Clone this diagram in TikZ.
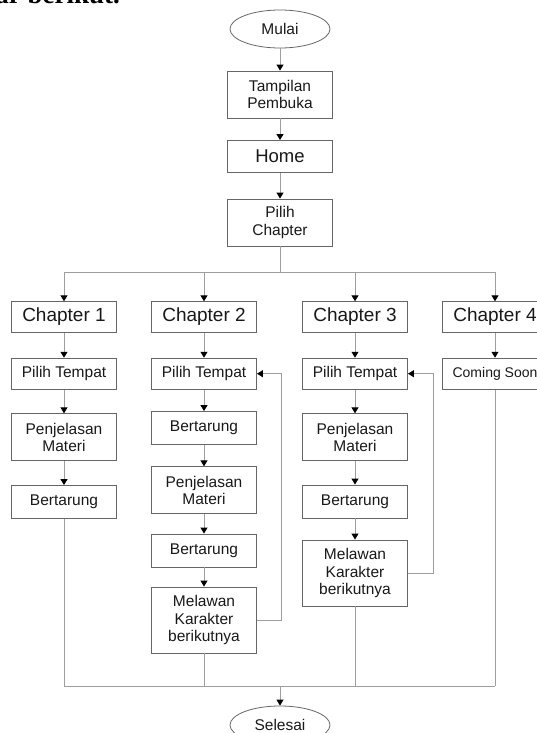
\documentclass[tikz,border=0pt]{standalone}
\usepackage{fontspec}
\setmainfont{Liberation Sans}
\newfontfamily\capserif{Liberation Serif}
\usetikzlibrary{shapes.geometric,arrows.meta}
\begin{document}
\begin{tikzpicture}[x=1pt,y=-1pt,
  box/.style={draw=black!60, line width=0.9pt, fill=white, minimum width=105pt,
    inner sep=0pt, align=center, text=black!90, font=\fontsize{15.5}{17.5}\selectfont},
  term/.style={ellipse, draw=black!60, line width=0.8pt, minimum width=100pt,
    minimum height=38pt, inner sep=0pt, text=black!90, font=\fontsize{15.5}{17.5}\selectfont},
  bsmall/.style={box, minimum height=33pt},
  btwo/.style={box, minimum height=47pt},
  bthree/.style={box, minimum height=66pt},
  chap/.style={box, minimum height=30.5pt, font=\fontsize{19}{21}\selectfont},
  conn/.style={draw=black!38, line width=1pt},
  arr/.style={conn, -{Triangle[length=6pt,width=7pt,color=black,fill=black]}}
]
\useasboundingbox (0,0) rectangle (537,733);

% clipped caption line of the page above the chart
\node[anchor=base east, inner sep=0pt, text=black,
  font=\capserif\bfseries\fontsize{27}{30}\selectfont] (cap) at (120,4) {gambar berikut.};

% main column
\node[term] (mulai) at (280,29) {Mulai};
\node[btwo] (tamp) at (280,94.5) {Tampilan\\Pembuka};
\node[box, minimum height=32pt, font=\fontsize{18.5}{20}\selectfont] (home) at (280,156.5) {Home};
\node[btwo] (pc) at (280,222.5) {Pilih\\Chapter};

% chapters
\node[chap] (ch1) at (64,317) {Chapter 1};
\node[chap] (ch2) at (204,317) {Chapter 2};
\node[chap] (ch3) at (355,317) {Chapter 3};
\node[chap] (ch4) at (495,317) {Chapter 4};

% column 1
\node[box, minimum height=31pt] (pt1) at (64,373.7) {Pilih Tempat};
\node[btwo] (pen1) at (64,437.3) {Penjelasan\\Materi};
\node[bsmall] (ber1) at (64,502) {Bertarung};

% column 2
\node[box, minimum height=31pt] (pt2) at (204,373.7) {Pilih Tempat};
\node[bsmall] (ber2a) at (204,428) {Bertarung};
\node[btwo] (pen2) at (204,490.3) {Penjelasan\\Materi};
\node[bsmall] (ber2b) at (204,550.5) {Bertarung};
\node[bthree] (mel2) at (204,620) {Melawan\\Karakter\\berikutnya};

% column 3
\node[box, minimum height=31pt] (pt3) at (355,373.7) {Pilih Tempat};
\node[btwo] (pen3) at (355,437.3) {Penjelasan\\Materi};
\node[bsmall] (ber3) at (355,501.5) {Bertarung};
\node[bthree] (mel3) at (355,573) {Melawan\\Karakter\\berikutnya};

% column 4
\node[box, minimum height=31pt, font=\fontsize{14}{16}\selectfont] (cs) at (495,373.7) {Coming Soon};

% end
\node[term] (sel) at (280,725) {Selesai};

% coordinates
\coordinate (split) at (280,272);
\coordinate (join) at (280,686);

% main arrows
\draw[arr] (mulai) -- (tamp);
\draw[arr] (tamp) -- (home);
\draw[arr] (home) -- (pc);
\draw[conn] (pc) -- (split);
\draw[conn] (ch1.north |- split) -- (ch4.north |- split);
\draw[arr] (ch1.north |- split) -- (ch1);
\draw[arr] (ch2.north |- split) -- (ch2);
\draw[arr] (ch3.north |- split) -- (ch3);
\draw[arr] (ch4.north |- split) -- (ch4);

% column arrows
\draw[arr] (ch1) -- (pt1);
\draw[arr] (pt1) -- (pen1);
\draw[arr] (pen1) -- (ber1);

\draw[arr] (ch2) -- (pt2);
\draw[arr] (pt2) -- (ber2a);
\draw[arr] (ber2a) -- (pen2);
\draw[arr] (pen2) -- (ber2b);
\draw[arr] (ber2b) -- (mel2);

\draw[arr] (ch3) -- (pt3);
\draw[arr] (pt3) -- (pen3);
\draw[arr] (pen3) -- (ber3);
\draw[arr] (ber3) -- (mel3);

\draw[arr] (ch4) -- (cs);

% feedback loops
\draw[arr] (mel2.east) -- ++(24.5,0) |- (pt2.east);
\draw[arr] (mel3.east) -- ++(25.5,0) |- (pt3.east);

% bottom merge
\draw[conn] (ber1.south) -- (ber1.south |- join);
\draw[conn] (mel2.south) -- (mel2.south |- join);
\draw[conn] (mel3.south) -- (mel3.south |- join);
\draw[conn] (cs.south) -- (cs.south |- join);
\draw[conn] (ber1.south |- join) -- (cs.south |- join);
\draw[arr] (join) -- (sel);
\end{tikzpicture}
\end{document}
